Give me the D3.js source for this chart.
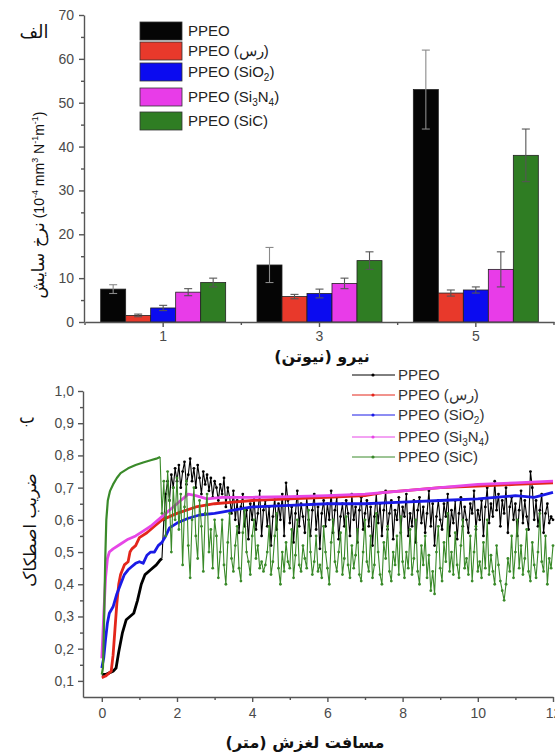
<!DOCTYPE html>
<html>
<head>
<meta charset="utf-8">
<script src="https://cdn.jsdelivr.net/npm/d3@7"></script>
<style>
  body { margin: 0; background: #fff; }
  svg { display: block; font-family: "Liberation Sans", Arial, sans-serif; }
  .fa { font-family: "DejaVu Sans", sans-serif; fill: #111; }
  .axis path, .axis line { stroke: #555; stroke-width: 1.4; }
  .axis text { fill: #4a4a4a; font-size: 14px; font-family: "Liberation Sans", Arial, sans-serif; }
</style>
</head>
<body>
<svg id="chart" width="555" height="755"></svg>
<script>
// ---- panel (الف): wear rate bars ----
const loads = ["1", "3", "5"];
const seriesKeys = ["ppeo", "clay", "sio2", "si3n4", "sic"];
const wearPPEO = [7.5, 13, 53];
const wearClay = [1.5, 5.8, 6.6];
const wearSiO2 = [3.2, 6.5, 7.3];
const wearSi3N4 = [6.8, 8.8, 12];
const wearSiC = [9, 14, 38];
const errPPEO = [1, 4, 9];
const errClay = [0.3, 0.5, 0.7];
const errSiO2 = [0.6, 1, 0.7];
const errSi3N4 = [0.8, 1.2, 4];
const errSiC = [1, 2, 6];
const wearTicks = [0, 10, 20, 30, 40, 50, 60, 70];
const wearMinor = [5, 15, 25, 35, 45, 55, 65];

// legend labels, split where subscripts go
const seriesLabels = [
  [["PPEO"]],
  [["PPEO (رس)"]],
  [["PPEO (SiO"], ["2", "sub"], [")"]],
  [["PPEO (Si"], ["3", "sub"], ["N"], ["4", "sub"], [")"]],
  [["PPEO (SiC)"]],
];

// ---- panel (ب): friction coefficient vs sliding distance ----
const distTicks = [0, 2, 4, 6, 8, 10, 12];
const distMinor = [1, 3, 5, 7, 9, 11];
const fricTicks = [0.1, 0.2, 0.3, 0.4, 0.5, 0.6, 0.7, 0.8, 0.9, 1.0];
const fricMinor = [0.15, 0.25, 0.35, 0.45, 0.55, 0.65, 0.75, 0.85, 0.95];

// smooth run-in parts, [distance m, friction]
const blackRise = [[0, 0.12], [0.1, 0.12], [0.2, 0.125], [0.3, 0.13], [0.38, 0.14], [0.45, 0.19], [0.55, 0.25],
  [0.65, 0.29], [0.75, 0.3], [0.85, 0.31], [0.95, 0.35], [1.05, 0.4], [1.15, 0.43], [1.3, 0.445],
  [1.45, 0.46], [1.55, 0.475], [1.6, 0.48]];
const clayCurve = [[0, 0.11], [0.1, 0.115], [0.2, 0.125], [0.25, 0.13], [0.3, 0.18], [0.35, 0.26], [0.4, 0.34],
  [0.45, 0.4], [0.5, 0.43], [0.6, 0.46], [0.7, 0.47], [0.75, 0.5], [0.8, 0.51], [0.9, 0.52], [1.0, 0.545],
  [1.2, 0.56], [1.4, 0.58], [1.6, 0.6], [1.8, 0.61], [2.0, 0.62], [2.5, 0.64], [3.0, 0.65], [3.5, 0.655],
  [4, 0.66], [5, 0.665], [6, 0.67], [7, 0.675], [7.5, 0.685], [8, 0.69], [9, 0.7], [10, 0.705],
  [11, 0.71], [12, 0.715]];
const sio2Curve = [[0, 0.14], [0.05, 0.17], [0.1, 0.23], [0.15, 0.28], [0.2, 0.31], [0.3, 0.33], [0.4, 0.37],
  [0.5, 0.4], [0.6, 0.43], [0.7, 0.445], [0.8, 0.455], [0.9, 0.465], [1.0, 0.47], [1.1, 0.465], [1.2, 0.49],
  [1.3, 0.5], [1.4, 0.5], [1.5, 0.52], [1.6, 0.53], [1.7, 0.55], [1.8, 0.575], [2.0, 0.59], [2.3, 0.605],
  [2.6, 0.615], [3.0, 0.62], [3.5, 0.63], [4, 0.64], [5, 0.645], [6, 0.65], [7, 0.65], [8, 0.655],
  [9, 0.66], [10, 0.665], [11, 0.675], [11.5, 0.67], [12, 0.685]];
const si3n4Curve = [[0, 0.17], [0.05, 0.3], [0.1, 0.42], [0.15, 0.48], [0.2, 0.5], [0.3, 0.51], [0.5, 0.525],
  [0.7, 0.54], [0.9, 0.55], [1.1, 0.565], [1.3, 0.58], [1.5, 0.6], [1.7, 0.62], [1.9, 0.64], [2.1, 0.66],
  [2.3, 0.68], [2.5, 0.675], [2.8, 0.665], [3.2, 0.67], [4, 0.67], [5, 0.672], [6, 0.675], [7, 0.68],
  [8, 0.69], [9, 0.7], [10, 0.71], [11, 0.715], [12, 0.72]];
const sicRise = [[0, 0.12], [0.03, 0.14], [0.06, 0.28], [0.09, 0.47], [0.12, 0.6], [0.16, 0.66], [0.22, 0.69],
  [0.3, 0.71], [0.4, 0.73], [0.5, 0.745], [0.7, 0.76], [0.9, 0.77], [1.1, 0.778], [1.3, 0.785],
  [1.45, 0.79], [1.55, 0.795]];

// noisy steady-state parts, sampled every 0.05 m
const sampleStep = 0.05;
const blackNoiseStart = 1.65;
const blackNoise = [
  0.6, 0.68, 0.72, 0.66, 0.74, 0.7, 0.76, 0.72,
  0.77, 0.7, 0.75, 0.78, 0.71, 0.74, 0.79, 0.72, 0.76, 0.7,
  0.77, 0.73, 0.68, 0.75, 0.71, 0.74, 0.69, 0.73, 0.67, 0.72,
  0.7, 0.66, 0.71, 0.68, 0.73, 0.64, 0.7, 0.67, 0.62, 0.69,
  0.6, 0.66, 0.56, 0.64, 0.68, 0.58, 0.63, 0.54, 0.65, 0.6,
  0.67, 0.57, 0.62, 0.69, 0.55, 0.63, 0.66, 0.58, 0.64, 0.52,
  0.61, 0.67, 0.57, 0.65, 0.6, 0.68, 0.55, 0.715, 0.66, 0.59,
  0.64, 0.53, 0.62, 0.69, 0.58, 0.65, 0.61, 0.56, 0.67, 0.6,
  0.55, 0.63, 0.68, 0.57, 0.64, 0.51, 0.62, 0.66, 0.58, 0.65,
  0.6, 0.69, 0.56, 0.63, 0.67, 0.54, 0.61, 0.65, 0.58, 0.66,
  0.62, 0.55, 0.68, 0.6, 0.64, 0.53, 0.63, 0.67, 0.57, 0.62,
  0.66, 0.58, 0.64, 0.52, 0.61, 0.68, 0.59, 0.65, 0.55, 0.63,
  0.69, 0.57, 0.62, 0.66, 0.54, 0.63, 0.6, 0.67, 0.56, 0.64,
  0.61, 0.68, 0.55, 0.62, 0.58, 0.66, 0.53, 0.63, 0.67, 0.59,
  0.64, 0.56, 0.62, 0.69, 0.58, 0.65, 0.52, 0.61, 0.66, 0.6,
  0.57, 0.65, 0.61, 0.68, 0.55, 0.63, 0.59, 0.66, 0.54, 0.62,
  0.67, 0.58, 0.64, 0.6, 0.56, 0.65, 0.62, 0.69, 0.57, 0.63,
  0.6, 0.66, 0.55, 0.64, 0.7, 0.59, 0.65, 0.61, 0.72, 0.63,
  0.68, 0.58, 0.66, 0.62, 0.7, 0.56, 0.64, 0.67, 0.6, 0.65,
  0.55, 0.63, 0.69, 0.59, 0.66, 0.61, 0.57, 0.75, 0.7, 0.6,
  0.66, 0.58, 0.63, 0.68, 0.56, 0.62, 0.65, 0.59, 0.61, 0.6,
];
const sicNoiseStart = 1.6;
const sicNoise = [
  0.62, 0.72, 0.55, 0.75, 0.66, 0.5, 0.7, 0.6, 0.73,
  0.57, 0.68, 0.46, 0.64, 0.72, 0.52, 0.42, 0.6, 0.7, 0.55,
  0.48, 0.66, 0.58, 0.44, 0.62, 0.68, 0.5, 0.57, 0.45, 0.6,
  0.55, 0.42, 0.5, 0.6, 0.46, 0.4, 0.53, 0.62, 0.48, 0.44,
  0.52, 0.58, 0.45, 0.41, 0.56, 0.63, 0.5, 0.47, 0.43, 0.55,
  0.6, 0.48, 0.52, 0.45, 0.47, 0.44, 0.46, 0.5, 0.58, 0.43,
  0.47, 0.55, 0.62, 0.45, 0.4, 0.5, 0.44, 0.53, 0.47, 0.45,
  0.57, 0.42, 0.49, 0.6, 0.46, 0.44, 0.52, 0.48, 0.45, 0.63,
  0.5, 0.43, 0.47, 0.55, 0.44, 0.46, 0.42, 0.58, 0.5, 0.45,
  0.4, 0.53, 0.6, 0.47, 0.44, 0.5, 0.56, 0.43, 0.48, 0.61,
  0.46, 0.42, 0.52, 0.45, 0.49, 0.57, 0.43, 0.41, 0.5, 0.6,
  0.47, 0.44, 0.55, 0.42, 0.46, 0.62, 0.5, 0.43, 0.4, 0.53,
  0.48, 0.58, 0.44, 0.41, 0.5, 0.46, 0.55, 0.43, 0.61, 0.47,
  0.42, 0.5, 0.45, 0.57, 0.43, 0.48, 0.6, 0.44, 0.4, 0.52,
  0.46, 0.55, 0.42, 0.49, 0.38, 0.44, 0.37, 0.5, 0.58, 0.45,
  0.41, 0.53, 0.47, 0.62, 0.44, 0.5, 0.43, 0.56, 0.46, 0.42,
  0.52, 0.6, 0.45, 0.48, 0.43, 0.55, 0.41, 0.5, 0.58, 0.44,
  0.47, 0.42, 0.53, 0.45, 0.6, 0.43, 0.49, 0.44, 0.4, 0.52,
  0.46, 0.41, 0.38, 0.35, 0.4, 0.48, 0.44, 0.55, 0.42, 0.5,
  0.6, 0.45, 0.52, 0.43, 0.48, 0.57, 0.44, 0.41, 0.53, 0.46,
  0.42, 0.5, 0.62, 0.47, 0.44, 0.55, 0.4, 0.48, 0.45, 0.52,
];

const barColors = ["#050505", "#e8392b", "#0b0bf0", "#e83ce8", "#2f7d23"];
const lineColors = ["#000000", "#e3261b", "#1a1ae6", "#e646e6", "#3a8a2a"];

const svg = d3.select("#chart");

function addLabel(sel, parts) {
  let shifted = false;
  parts.forEach(([t, kind]) => {
    const ts = sel.append("tspan").text(t);
    if (kind === "sub") {
      ts.attr("font-size", 10).attr("dy", 4);
      shifted = true;
    } else if (shifted) {
      ts.attr("dy", -4);
      shifted = false;
    }
  });
}

// ================= top: bar chart =================
const wearBySeries = [wearPPEO, wearClay, wearSiO2, wearSi3N4, wearSiC];
const errBySeries = [errPPEO, errClay, errSiO2, errSi3N4, errSiC];

const xBand = d3.scaleBand().domain(loads).range([85, 554]);
const xInner = d3.scaleBand().domain(seriesKeys).range([0, 125]);
const yWear = d3.scaleLinear().domain([0, 70]).range([322, 15]);

const topG = svg.append("g");

seriesKeys.forEach((k, si) => {
  const g = topG.append("g");
  const groupX = (c) => xBand(c) + xBand.bandwidth() / 2 - 62.5 + xInner(k);
  g.selectAll("rect")
    .data(loads)
    .enter()
    .append("rect")
    .attr("x", (c) => groupX(c))
    .attr("y", (c, i) => yWear(wearBySeries[si][i]))
    .attr("width", xInner.bandwidth())
    .attr("height", (c, i) => yWear(0) - yWear(wearBySeries[si][i]))
    .attr("fill", barColors[si])
    .attr("stroke", "#222")
    .attr("stroke-width", 0.8);

  // error bars
  const eb = g.selectAll(".err")
    .data(loads)
    .enter()
    .append("g")
    .attr("class", "err")
    .attr("stroke", si === 0 ? "#8a8a8a" : "#555")
    .attr("stroke-width", 1.1);
  const cx = (c) => groupX(c) + xInner.bandwidth() / 2;
  eb.append("line")
    .attr("x1", cx).attr("x2", cx)
    .attr("y1", (c, i) => yWear(wearBySeries[si][i] - errBySeries[si][i]))
    .attr("y2", (c, i) => yWear(wearBySeries[si][i] + errBySeries[si][i]));
  [1, -1].forEach((sgn) => {
    eb.append("line")
      .attr("x1", (c) => cx(c) - 4).attr("x2", (c) => cx(c) + 4)
      .attr("y1", (c, i) => yWear(wearBySeries[si][i] + sgn * errBySeries[si][i]))
      .attr("y2", (c, i) => yWear(wearBySeries[si][i] + sgn * errBySeries[si][i]));
  });
});

// axes
topG.append("g")
  .attr("class", "axis")
  .attr("transform", "translate(84,0)")
  .call(d3.axisLeft(yWear).tickValues(wearTicks).tickSize(5).tickPadding(5).tickSizeOuter(0));
topG.append("g")
  .attr("class", "axis")
  .attr("transform", "translate(84,0)")
  .call(d3.axisLeft(yWear).tickValues(wearMinor).tickSize(3).tickFormat("").tickSizeOuter(0))
  .select(".domain").remove();

const xAxisTop = topG.append("g")
  .attr("class", "axis")
  .attr("transform", "translate(0,322)")
  .call(d3.axisBottom(xBand).tickSize(5).tickPadding(4).tickSizeOuter(0));
xAxisTop.selectAll("text").attr("font-size", 13);
xAxisTop.selectAll(".minor")
  .data(loads.map((c) => xBand(c)).concat([xBand.range()[1]]))
  .enter()
  .append("line")
  .attr("class", "minor")
  .attr("x1", (d) => d).attr("x2", (d) => d)
  .attr("y1", 0).attr("y2", 3);

// titles
topG.append("text")
  .attr("class", "fa")
  .attr("x", 322).attr("y", 362)
  .attr("text-anchor", "middle")
  .attr("font-size", 16).attr("font-weight", "bold")
  .text("نیرو (نیوتن)");

const yTitleTop = topG.append("text")
  .attr("class", "fa")
  .attr("transform", "translate(44,205) rotate(-90)")
  .attr("text-anchor", "middle");
yTitleTop.append("tspan").attr("font-size", 17).text("نرخ سایش");
[["\u200E (10", 0], ["-4", 1], [" mm", 0], ["3", 1], [" N", 0], ["-1", 1], ["m", 0], ["-1", 1], [")", 0]]
  .forEach(([t, sup], i, arr) => {
    const prevSup = i > 0 && arr[i - 1][1];
    yTitleTop.append("tspan")
      .attr("font-family", "Liberation Sans, Arial, sans-serif")
      .attr("font-size", sup ? 9 : 14)
      .attr("dy", sup ? -6 : prevSup ? 6 : 0)
      .text(t);
  });

topG.append("text")
  .attr("class", "fa")
  .attr("x", 34).attr("y", 38)
  .attr("text-anchor", "middle")
  .attr("font-size", 18)
  .text("الف");

// legend
const legTop = topG.append("g");
const legTopY = [31, 51, 72, 97, 121];
seriesLabels.forEach((parts, i) => {
  legTop.append("rect")
    .attr("x", 140).attr("y", legTopY[i] - 9)
    .attr("width", 42).attr("height", 18)
    .attr("fill", barColors[i])
    .attr("stroke", "#333").attr("stroke-width", 0.8);
  const t = legTop.append("text")
    .attr("x", 188).attr("y", legTopY[i] + 5)
    .attr("font-size", 15).attr("fill", "#222");
  addLabel(t, parts);
});

// ================= bottom: friction curves =================
const xDist = d3.scaleLinear().domain([-0.5, 12]).range([83, 553]);
const yFric = d3.scaleLinear().domain([0.05, 1.0]).range([697, 391]);
const line = d3.line().x((d) => xDist(d[0])).y((d) => yFric(d[1]));

const bottomG = svg.append("g");

const blackNoisePts = blackNoise.map((f, i) => [blackNoiseStart + i * sampleStep, f]);
const sicNoisePts = sicNoise.map((f, i) => [sicNoiseStart + i * sampleStep, f]);

const curves = [
  { smooth: blackRise, noisy: blackNoisePts },
  { smooth: clayCurve, noisy: null },
  { smooth: sio2Curve, noisy: null },
  { smooth: si3n4Curve, noisy: null },
  { smooth: sicRise, noisy: sicNoisePts },
];

curves.forEach((c, i) => {
  const g = bottomG.append("g");
  g.append("path")
    .attr("d", line(c.smooth))
    .attr("fill", "none")
    .attr("stroke", lineColors[i])
    .attr("stroke-width", i === 4 ? 2.2 : 2.8)
    .attr("stroke-linejoin", "round");
  if (c.noisy) {
    const pts = [c.smooth[c.smooth.length - 1]].concat(c.noisy);
    g.append("path")
      .attr("d", line(pts))
      .attr("fill", "none")
      .attr("stroke", lineColors[i])
      .attr("stroke-width", 1.1);
    g.selectAll("circle")
      .data(c.noisy)
      .enter()
      .append("circle")
      .attr("cx", (d) => xDist(d[0]))
      .attr("cy", (d) => yFric(d[1]))
      .attr("r", 1.4)
      .attr("fill", lineColors[i]);
  }
});

const fmtComma = (d) => d3.format(".1f")(d).replace(".", ",");
bottomG.append("g")
  .attr("class", "axis")
  .attr("transform", "translate(83,0)")
  .call(d3.axisLeft(yFric).tickValues(fricTicks).tickFormat(fmtComma).tickSize(5).tickPadding(4).tickSizeOuter(0));
bottomG.append("g")
  .attr("class", "axis")
  .attr("transform", "translate(83,0)")
  .call(d3.axisLeft(yFric).tickValues(fricMinor).tickSize(3).tickFormat("").tickSizeOuter(0))
  .select(".domain").remove();
bottomG.append("g")
  .attr("class", "axis")
  .attr("transform", "translate(0,697)")
  .call(d3.axisBottom(xDist).tickValues(distTicks).tickSize(5).tickPadding(6).tickSizeOuter(0));
bottomG.append("g")
  .attr("class", "axis")
  .attr("transform", "translate(0,697)")
  .call(d3.axisBottom(xDist).tickValues(distMinor).tickSize(3).tickFormat("").tickSizeOuter(0))
  .select(".domain").remove();

bottomG.append("text")
  .attr("class", "fa")
  .attr("x", 305).attr("y", 748)
  .attr("text-anchor", "middle")
  .attr("font-size", 16).attr("font-weight", "bold")
  .text("مسافت لغزش (متر)");

bottomG.append("text")
  .attr("class", "fa")
  .attr("transform", "translate(36,530) rotate(-90)")
  .attr("text-anchor", "middle")
  .attr("font-size", 17)
  .text("ضریب اصطکاک");

bottomG.append("text")
  .attr("class", "fa")
  .attr("x", 27).attr("y", 423)
  .attr("text-anchor", "middle")
  .attr("font-size", 17)
  .text("ب");

// legend
const legBot = bottomG.append("g");
const legBotY = [375, 395, 415, 437, 457];
seriesLabels.forEach((parts, i) => {
  legBot.append("line")
    .attr("x1", 352).attr("x2", 395)
    .attr("y1", legBotY[i]).attr("y2", legBotY[i])
    .attr("stroke", lineColors[i]).attr("stroke-width", 1);
  legBot.append("circle")
    .attr("cx", 373).attr("cy", legBotY[i]).attr("r", 1.6)
    .attr("fill", lineColors[i]);
  const t = legBot.append("text")
    .attr("x", 398).attr("y", legBotY[i] + 5)
    .attr("font-size", 15).attr("fill", "#333");
  addLabel(t, parts);
});
</script>
</body>
</html>
